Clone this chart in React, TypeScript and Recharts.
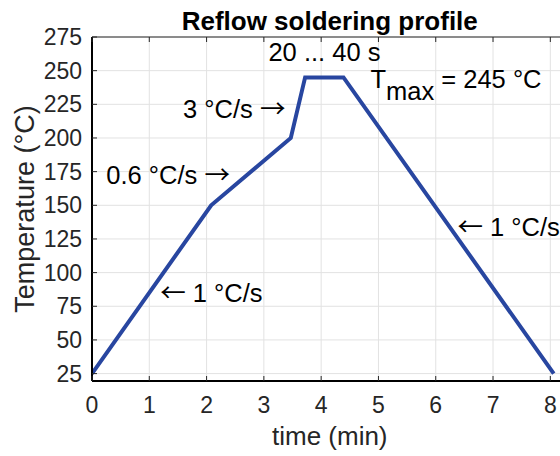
import React from 'react'
import { LineChart, Line, XAxis, YAxis, CartesianGrid, ReferenceDot } from 'recharts'

// profile corners: time in minutes, temperature in °C
const timeMin = [0, 2.08, 3.47, 3.72, 4.39, 8.06]
const temperature = [25, 150, 200, 245, 245, 25]

const xTicks = [0, 1, 2, 3, 4, 5, 6, 7, 8]
const yTicks = [25, 50, 75, 100, 125, 150, 175, 200, 225, 250, 275]

// text annotations, anchored at their left/middle point (data units)
const noteText = ['20 ... 40 s', 'T_{max} = 245 °C', '3 °C/s →', '0.6 °C/s →', '← 1 °C/s', '← 1 °C/s']
const noteX = [3.08, 4.86, 1.59, 0.25, 1.19, 6.38]
const noteY = [263.8, 243.8, 221.1, 172.6, 84.8, 133.9]

const data = timeMin.map((t, i) => ({ t, temp: temperature[i] }))

const FONT = '"Liberation Sans", Arial, Helvetica, sans-serif'
const ARROW_FONT = '"Noto Sans CJK JP", "DejaVu Sans", sans-serif'
const INK = '#262626'

const XTick = (props: any) => {
  const { x, y, payload } = props
  return (
    <g>
      <line x1={x} x2={x} y1={y} y2={y - 5} stroke={INK} strokeWidth={1} />
      <text x={x} y={y + 32} textAnchor="middle" fontSize={23} fill={INK} fontFamily={FONT}>
        {payload.value}
      </text>
    </g>
  )
}

const TopTick = (props: any) => {
  const { x, y } = props
  return <line x1={x} x2={x} y1={y} y2={y + 5} stroke={INK} strokeWidth={1} />
}

const YTick = (props: any) => {
  const { x, y, payload } = props
  return (
    <g>
      <line x1={x} x2={x + 5} y1={y} y2={y} stroke={INK} strokeWidth={1} />
      <text x={x - 10} y={y} dy="0.35em" textAnchor="end" fontSize={23} fill={INK} fontFamily={FONT}>
        {payload.value}
      </text>
    </g>
  )
}

// splits arrows out so they can use a thinner, longer glyph
function pieces(s: string) {
  return s.split(/([←→])/).filter((p) => p !== '').map((p, i) =>
    p === '←' || p === '→' ? (
      <tspan key={i} fontFamily={ARROW_FONT}>{p}</tspan>
    ) : (
      <tspan key={i}>{p}</tspan>
    )
  )
}

function NoteLabel({ viewBox, text }: any) {
  const m = text.match(/^(.*)_\{(.*)\}(.*)$/)
  const common = { fontSize: 25.5, fill: '#000', fontFamily: FONT }
  if (m) {
    return (
      <text x={viewBox.x} y={viewBox.y} dy="0.35em" {...common}>
        <tspan>{m[1]}</tspan>
        <tspan dy={12}>{m[2]}</tspan>
        <tspan dy={-12}>{m[3]}</tspan>
      </text>
    )
  }
  return (
    <text x={viewBox.x} y={viewBox.y} dy="0.35em" {...common}>
      {pieces(text)}
    </text>
  )
}

export default function App() {
  return (
    <div style={{ position: 'absolute', left: 0, top: 0, width: 560, height: 456, overflow: 'hidden', background: '#fff' }}>
      <LineChart width={620} height={456} data={data} margin={{ top: 7, right: 52.5, bottom: 0, left: 0 }}>
        <CartesianGrid stroke="#e2e2e2" strokeWidth={1} />
        <XAxis
          dataKey="t"
          type="number"
          domain={[0, 8.3]}
          ticks={xTicks}
          allowDataOverflow
          height={75}
          tickSize={0}
          tickMargin={0}
          tickLine={false}
          tick={<XTick />}
          axisLine={{ stroke: '#000', strokeWidth: 2 }}
          label={{
            content: (p: any) => (
              <text
                x={p.viewBox.x + p.viewBox.width / 2}
                y={p.viewBox.y + 64}
                textAnchor="middle"
                fontSize={26}
                fill={INK}
                fontFamily={FONT}
              >
                time (min)
              </text>
            ),
          }}
        />
        <XAxis
          xAxisId="top"
          orientation="top"
          type="number"
          dataKey="t"
          domain={[0, 8.3]}
          ticks={xTicks}
          allowDataOverflow
          height={30}
          tickSize={0}
          tickMargin={0}
          tickLine={false}
          tick={<TopTick />}
          axisLine={{ stroke: INK, strokeWidth: 1 }}
          label={{
            content: (p: any) => (
              <text
                x={p.viewBox.x + p.viewBox.width / 2}
                y={p.viewBox.y + 22.5}
                textAnchor="middle"
                fontSize={26}
                fontWeight="bold"
                fill="#000"
                fontFamily={FONT}
              >
                Reflow soldering profile
              </text>
            ),
          }}
        />
        <YAxis
          type="number"
          domain={[19.5, 275]}
          ticks={yTicks}
          allowDataOverflow
          width={92}
          tickSize={0}
          tickMargin={0}
          tickLine={false}
          tick={<YTick />}
          axisLine={{ stroke: '#000', strokeWidth: 2 }}
          label={{
            content: (p: any) => {
              const cx = 25
              const cy = p.viewBox.y + p.viewBox.height / 2
              return (
                <text
                  x={cx}
                  y={cy}
                  dy="0.35em"
                  transform={`rotate(-90, ${cx}, ${cy})`}
                  textAnchor="middle"
                  fontSize={27}
                  fill={INK}
                  fontFamily={FONT}
                >
                  Temperature (°C)
                </text>
              )
            },
          }}
        />
        <Line
          dataKey="temp"
          type="linear"
          stroke="#2846a0"
          strokeWidth={4}
          dot={false}
          activeDot={false}
          isAnimationActive={false}
        />
        {noteText.map((txt, i) => (
          <ReferenceDot
            key={i}
            x={noteX[i]}
            y={noteY[i]}
            r={0}
            fill="none"
            stroke="none"
            label={{ content: (p: any) => <NoteLabel viewBox={p.viewBox} text={txt} /> }}
          />
        ))}
      </LineChart>
    </div>
  )
}
